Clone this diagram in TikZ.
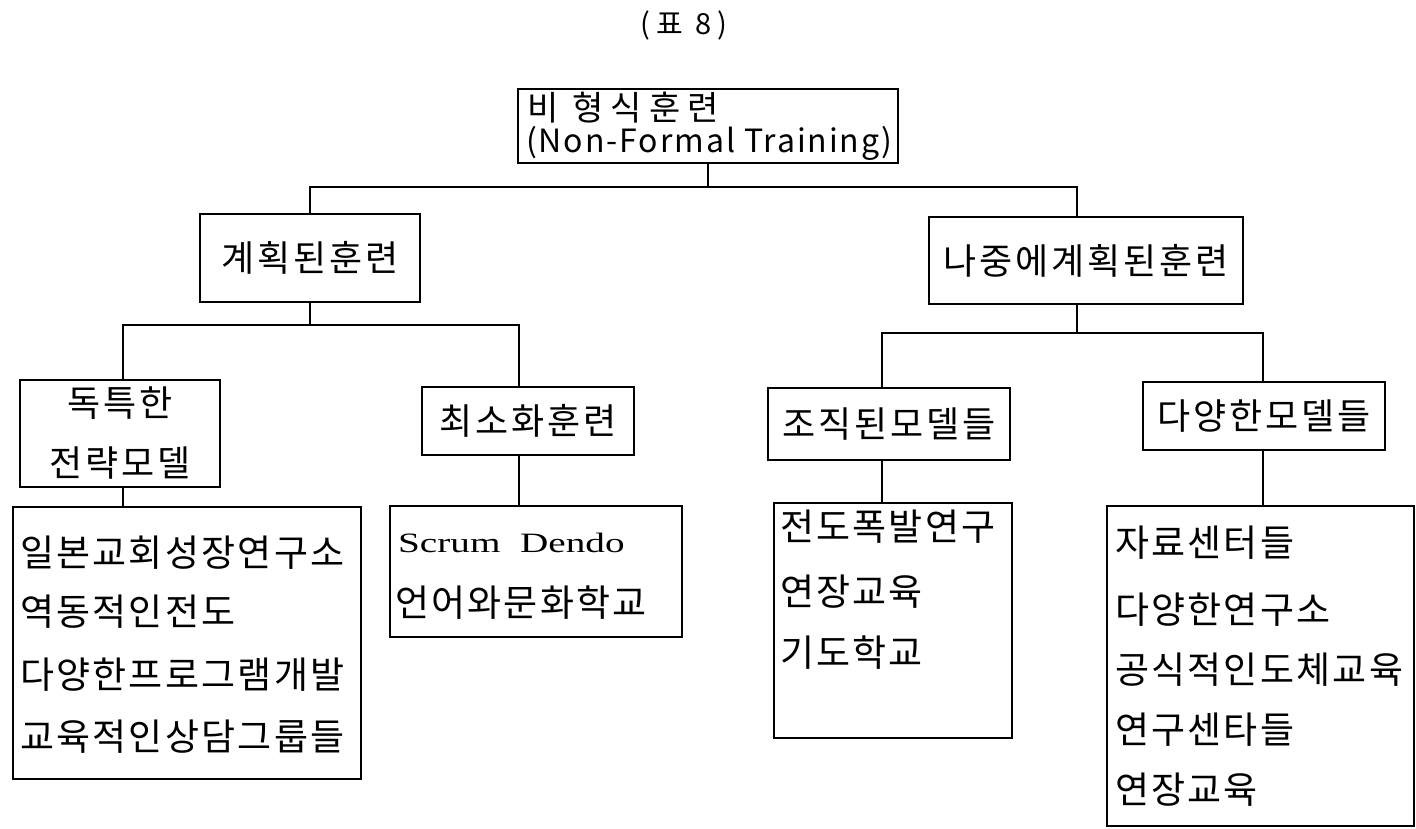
\documentclass[tikz,border=0pt]{standalone}
\usepackage{fontspec}
\setmainfont{Noto Sans CJK KR}
\newfontfamily\latinserif{Liberation Serif}
\begin{document}
\begin{tikzpicture}[x=1pt,y=-1pt,
  box/.style={draw=black, line width=2pt, inner sep=0pt},
  lbl/.style={inner sep=0pt, font=\fontsize{36}{40}\selectfont\addfontfeature{LetterSpace=8}},
  item/.style={inner sep=0pt, anchor=west, font=\fontsize{37}{42}\selectfont\addfontfeature{LetterSpace=6}},
  link/.style={line width=2pt, draw=black}]
\useasboundingbox (0,0) rectangle (1416,828);

% title
\node[lbl, font=\fontsize{29}{32}\selectfont\addfontfeature{LetterSpace=20}] (title) at (684,25) {(표 8)};

% root
\node[box, minimum width=380pt, minimum height=74pt] (root) at (708,126) {};
\node[item, font=\fontsize{34}{36}\selectfont\addfontfeature{LetterSpace=20}] (rootA) at (527,108) {비 형식훈련};
\node[item, font=\fontsize{32}{36}\selectfont\addfontfeature{LetterSpace=6}] (rootB) at (526,143) {(Non-Formal Training)};

% level 1
\node[box, lbl, minimum width=220pt, minimum height=88pt] (plan) at (310,258) {계획된훈련};
\node[box, lbl, minimum width=314pt, minimum height=87pt] (later) at (1086,260.5) {나중에계획된훈련};

% level 2
\node[box, lbl, align=center, font=\fontsize{36}{60}\selectfont\addfontfeature{LetterSpace=8}, minimum width=200pt, minimum height=107pt] (unique) at (120,433.5) {독특한\\전략모델};
\node[box, lbl, minimum width=212pt, minimum height=68pt] (mini) at (528,421) {최소화훈련};
\node[box, lbl, minimum width=242pt, minimum height=72pt] (org) at (889,424) {조직된모델들};
\node[box, lbl, minimum width=242pt, minimum height=68pt] (var) at (1264,416) {다양한모델들};

% lists
\node[box, minimum width=348pt, minimum height=272pt] (list1) at (187,643) {};
\node[item] (l1a) at (20,553) {일본교회성장연구소};
\node[item] (l1b) at (20,612) {역동적인전도};
\node[item] (l1c) at (20,675) {다양한프로그램개발};
\node[item] (l1d) at (20,737) {교육적인상담그룹들};

\node[box, minimum width=292pt, minimum height=131pt] (list2) at (536,571.5) {};
\node[item, font=\fontsize{28}{30}\latinserif] (l2a) at (398,543) {\scalebox{1.4}[1]{Scrum\hspace{14pt}Dendo}};
\node[item] (l2b) at (395,603) {언어와문화학교};

\node[box, minimum width=238pt, minimum height=235pt] (list3) at (893,620.5) {};
\node[item] (l3a) at (780,527) {전도폭발연구};
\node[item] (l3b) at (780,592) {연장교육};
\node[item] (l3c) at (780,653) {기도학교};

\node[box, minimum width=307pt, minimum height=320pt] (list4) at (1260.5,666) {};
\node[item] (l4a) at (1115,543) {자료센터들};
\node[item] (l4b) at (1115,610) {다양한연구소};
\node[item] (l4c) at (1115,670) {공식적인도체교육};
\node[item] (l4d) at (1115,730) {연구센타들};
\node[item] (l4e) at (1115,790) {연장교육};

% connectors
\coordinate (j1) at (708,187);
\coordinate (j2) at (310,325);
\coordinate (j3) at (1077,333);
\coordinate (xU) at (123,0);
\coordinate (xM) at (519,0);
\coordinate (xO) at (882,0);
\coordinate (xV) at (1263,0);

\draw[link] (root.south) -- (j1);
\draw[link] (plan.north) |- (j1) -| (j3 |- later.north);
\draw[link] (plan.south) -- (j2);
\draw[link] (xU |- unique.north) |- (j2) -| (xM |- mini.north);
\draw[link] (j3 |- later.south) -- (j3);
\draw[link] (xO |- org.north) |- (j3) -| (xV |- var.north);
\draw[link] (xU |- unique.south) -- (xU |- list1.north);
\draw[link] (xM |- mini.south) -- (xM |- list2.north);
\draw[link] (xO |- org.south) -- (xO |- list3.north);
\draw[link] (xV |- var.south) -- (xV |- list4.north);
\end{tikzpicture}
\end{document}
